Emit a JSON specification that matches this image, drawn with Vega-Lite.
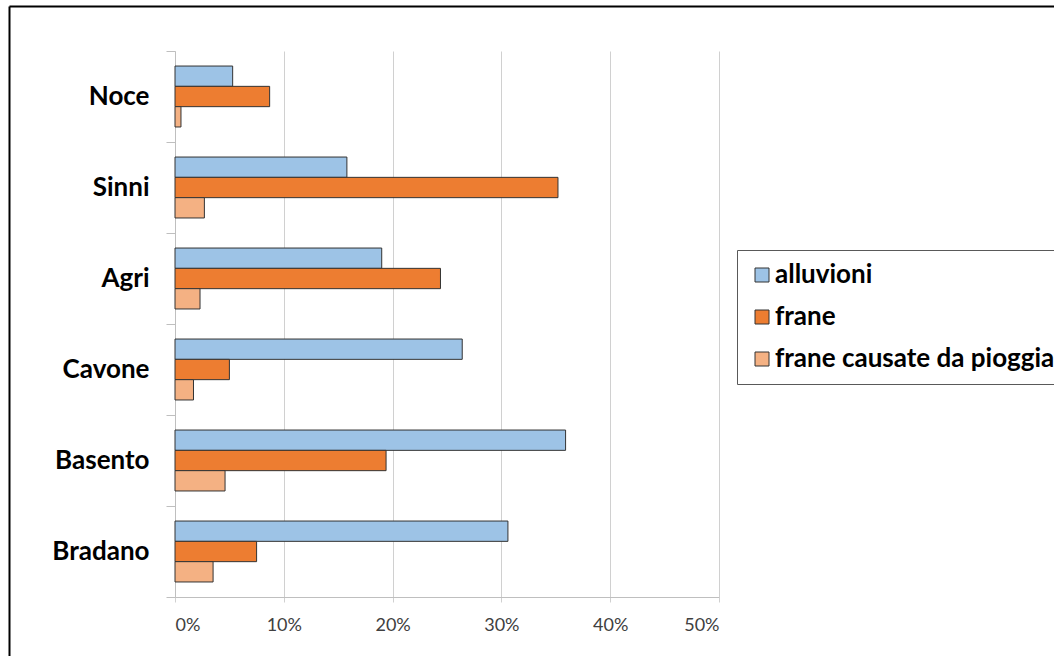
{
  "$schema": "https://vega.github.io/schema/vega-lite/v6.json",
  "width": 544,
  "height": 546,
  "autosize": {"type": "none"},
  "padding": {"left": 175, "top": 51, "right": 335, "bottom": 59},
  "background": "white",
  "data": {
    "values": [
      {"bacino": "Noce", "serie": "alluvioni", "quota": 0.053},
      {"bacino": "Noce", "serie": "frane", "quota": 0.087},
      {"bacino": "Noce", "serie": "frane causate da pioggia", "quota": 0.0055},
      {"bacino": "Sinni", "serie": "alluvioni", "quota": 0.158},
      {"bacino": "Sinni", "serie": "frane", "quota": 0.352},
      {"bacino": "Sinni", "serie": "frane causate da pioggia", "quota": 0.027},
      {"bacino": "Agri", "serie": "alluvioni", "quota": 0.19},
      {"bacino": "Agri", "serie": "frane", "quota": 0.244},
      {"bacino": "Agri", "serie": "frane causate da pioggia", "quota": 0.023},
      {"bacino": "Cavone", "serie": "alluvioni", "quota": 0.264},
      {"bacino": "Cavone", "serie": "frane", "quota": 0.05},
      {"bacino": "Cavone", "serie": "frane causate da pioggia", "quota": 0.017},
      {"bacino": "Basento", "serie": "alluvioni", "quota": 0.359},
      {"bacino": "Basento", "serie": "frane", "quota": 0.194},
      {"bacino": "Basento", "serie": "frane causate da pioggia", "quota": 0.046},
      {"bacino": "Bradano", "serie": "alluvioni", "quota": 0.306},
      {"bacino": "Bradano", "serie": "frane", "quota": 0.075},
      {"bacino": "Bradano", "serie": "frane causate da pioggia", "quota": 0.035}
    ]
  },
  "layer": [
    {
      "mark": {"type": "bar", "stroke": "#333333", "strokeWidth": 1},
      "encoding": {
        "y": {
          "field": "bacino",
          "type": "nominal",
          "sort": ["Noce", "Sinni", "Agri", "Cavone", "Basento", "Bradano"],
          "scale": {"paddingInner": 0, "paddingOuter": 0},
          "axis": {
            "title": null,
            "orient": "left",
            "tickBand": "extent",
            "grid": false,
            "domainColor": "#bfbfbf",
            "tickColor": "#bfbfbf",
            "tickSize": 9,
            "labelFont": "Lato",
            "labelFontSize": 26,
            "labelFontWeight": "bold",
            "labelColor": "#000000",
            "labelPadding": 17
          }
        },
        "yOffset": {
          "field": "serie",
          "type": "nominal",
          "sort": ["alluvioni", "frane", "frane causate da pioggia"],
          "scale": {"paddingInner": 0, "paddingOuter": 0.74}
        },
        "x": {
          "field": "quota",
          "type": "quantitative",
          "scale": {"domain": [0, 0.5], "nice": false},
          "axis": {
            "title": null,
            "orient": "bottom",
            "format": ".0%",
            "values": [0, 0.1, 0.2, 0.3, 0.4, 0.5],
            "grid": true,
            "gridColor": "#d0d0d0",
            "domainColor": "#bfbfbf",
            "tickColor": "#d0d0d0",
            "tickSize": 5,
            "labelFont": "Lato",
            "labelFontSize": 18,
            "labelColor": "#404040",
            "labelPadding": 14
          }
        },
        "color": {
          "field": "serie",
          "type": "nominal",
          "scale": {
            "domain": ["alluvioni", "frane", "frane causate da pioggia"],
            "range": ["#9dc3e6", "#ed7d31", "#f4b183"]
          },
          "legend": {
            "title": null,
            "orient": "none",
            "legendX": 562,
            "legendY": 199,
            "padding": 12,
            "strokeColor": "#595959",
            "fillColor": "white",
            "symbolType": "square",
            "symbolSize": 196,
            "symbolStrokeColor": "#333333",
            "symbolStrokeWidth": 1,
            "symbolOpacity": 1,
            "labelFont": "Lato",
            "labelFontSize": 26,
            "labelFontWeight": "bold",
            "labelColor": "#000000",
            "labelLimit": 400,
            "labelOffset": 0,
            "rowPadding": 16
          }
        }
      }
    },
    {
      "mark": {"type": "bar", "opacity": 0},
      "encoding": {
        "y": {
          "field": "bacino",
          "type": "nominal",
          "scale": {"range": [-45, 605]},
          "axis": {
            "title": null,
            "orient": "left",
            "offset": 166,
            "ticks": false,
            "labels": false,
            "grid": false,
            "domainColor": "#000000",
            "domainWidth": 2
          }
        },
        "x": {
          "field": "quota",
          "type": "quantitative",
          "scale": {"range": [-166, 879]},
          "axis": {
            "title": null,
            "orient": "top",
            "offset": 45,
            "ticks": false,
            "labels": false,
            "grid": false,
            "domainColor": "#000000",
            "domainWidth": 2
          }
        }
      }
    }
  ],
  "resolve": {
    "scale": {"x": "independent", "y": "independent"},
    "axis": {"x": "independent", "y": "independent"}
  },
  "config": {"view": {"stroke": null}}
}
